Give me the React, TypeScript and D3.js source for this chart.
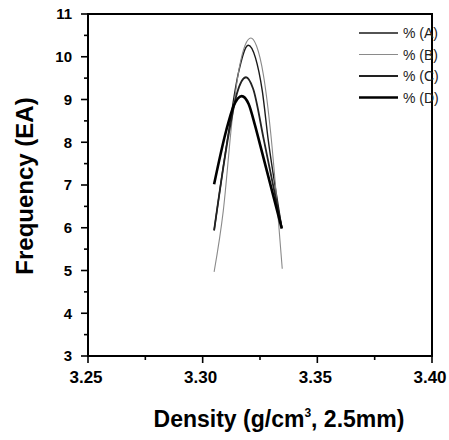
import React from "react";
import * as d3 from "d3";

// x = density (g/cm3), y = frequency (EA)
const seriesA = [
  [3.305, 5.94], [3.3114, 8.28], [3.3155, 9.6], [3.3199, 10.27], [3.323, 9.98],
  [3.326, 9.2], [3.3286, 8.05], [3.3315, 7.0], [3.3345, 6.0],
];
const seriesB = [
  [3.305, 4.97], [3.309, 6.4], [3.313, 8.6], [3.316, 9.75], [3.3185, 10.27], [3.321, 10.44],
  [3.3235, 10.25], [3.3265, 9.57], [3.3297, 8.2], [3.333, 6.18], [3.3347, 5.04],
];
const seriesC = [
  [3.305, 5.94], [3.3114, 8.2], [3.315, 9.15], [3.3189, 9.52], [3.322, 9.25],
  [3.3267, 8.05], [3.3345, 6.0],
];
const seriesD = [
  [3.305, 7.02], [3.3103, 8.28], [3.3135, 8.85], [3.317, 9.08], [3.32, 8.9],
  [3.3228, 8.4], [3.325, 7.95], [3.3345, 5.98],
];
const legendLabels = ["% (A)", "% (B)", "% (C)", "% (D)"];
const xTicks = [3.25, 3.3, 3.35, 3.4];
const yTicks = [3, 4, 5, 6, 7, 8, 9, 10, 11];

const styles = [
  { color: "#1a1a1a", width: 1.4 },
  { color: "#8a8a8a", width: 1.1 },
  { color: "#222", width: 1.8 },
  { color: "#000", width: 2.6 },
];

const FONT = "'Liberation Sans', Arial, sans-serif";

export default function App() {
  const W = 449, H = 440;
  const left = 88, right = 432, top = 14, bottom = 356;

  const x = d3.scaleLinear().domain([3.25, 3.4]).range([left, right]);
  const y = d3.scaleLinear().domain([3, 11]).range([bottom, top]);

  const line = d3.line<number[]>()
    .x((d) => x(d[0]))
    .y((d) => y(d[1]))
    .curve(d3.curveMonotoneX);

  const series = [seriesA, seriesB, seriesC, seriesD];
  const minorX = d3.range(0, 7).map((i) => 3.25 + i * 0.025);
  const minorY = d3.range(0, 17).map((i) => 3 + i * 0.5);

  return (
    <svg width={W} height={H} style={{ position: "absolute", left: 0, top: 0, background: "#fff" }}>
      {/* curves */}
      {series.map((s, i) => (
        <path key={i} d={line(s) || ""} fill="none"
          stroke={styles[i].color} strokeWidth={styles[i].width} strokeLinejoin="round" />
      ))}

      {/* frame */}
      <rect x={left} y={top} width={right - left} height={bottom - top}
        fill="none" stroke="#000" strokeWidth={2} />

      {/* y ticks */}
      {minorY.map((v) => {
        const major = Math.abs(v - Math.round(v)) < 1e-6;
        return <line key={"yt" + v} x1={left - (major ? 7 : 4)} x2={left} y1={y(v)} y2={y(v)}
          stroke="#000" strokeWidth={1.6} />;
      })}
      {yTicks.map((v) => (
        <text key={"yl" + v} x={left - 16} y={y(v)} dy="0.36em" textAnchor="end"
          fontFamily={FONT} fontWeight="bold" fontSize={15}>{v}</text>
      ))}

      {/* x ticks */}
      {minorX.map((v, i) => (
        <line key={"xt" + i} x1={x(v)} x2={x(v)} y1={bottom} y2={bottom + (i % 2 === 0 ? 7 : 4)}
          stroke="#000" strokeWidth={1.6} />
      ))}
      {xTicks.map((v) => (
        <text key={"xl" + v} x={x(v) - 2} y={383} textAnchor="middle"
          fontFamily={FONT} fontWeight="bold" fontSize={17}>{v.toFixed(2)}</text>
      ))}

      {/* axis titles */}
      <text x={279} y={427} textAnchor="middle" fontFamily={FONT} fontWeight="bold" fontSize={23}>
        Density (g/cm<tspan dy={-10} fontSize={12}>3</tspan><tspan dy={10}>, 2.5mm)</tspan>
      </text>
      <text transform="translate(33,186) rotate(-90)" textAnchor="middle"
        fontFamily={FONT} fontWeight="bold" fontSize={24}>Frequency (EA)</text>

      {/* legend */}
      {legendLabels.map((lab, i) => {
        const ly = 33 + i * 21.5;
        return (
          <g key={lab}>
            <line x1={359} x2={398} y1={ly} y2={ly} stroke={styles[i].color}
              strokeWidth={styles[i].width} />
            <text x={403} y={ly} dy="0.36em" fontFamily={FONT} fontSize={14} fill="#222">{lab}</text>
          </g>
        );
      })}
    </svg>
  );
}
